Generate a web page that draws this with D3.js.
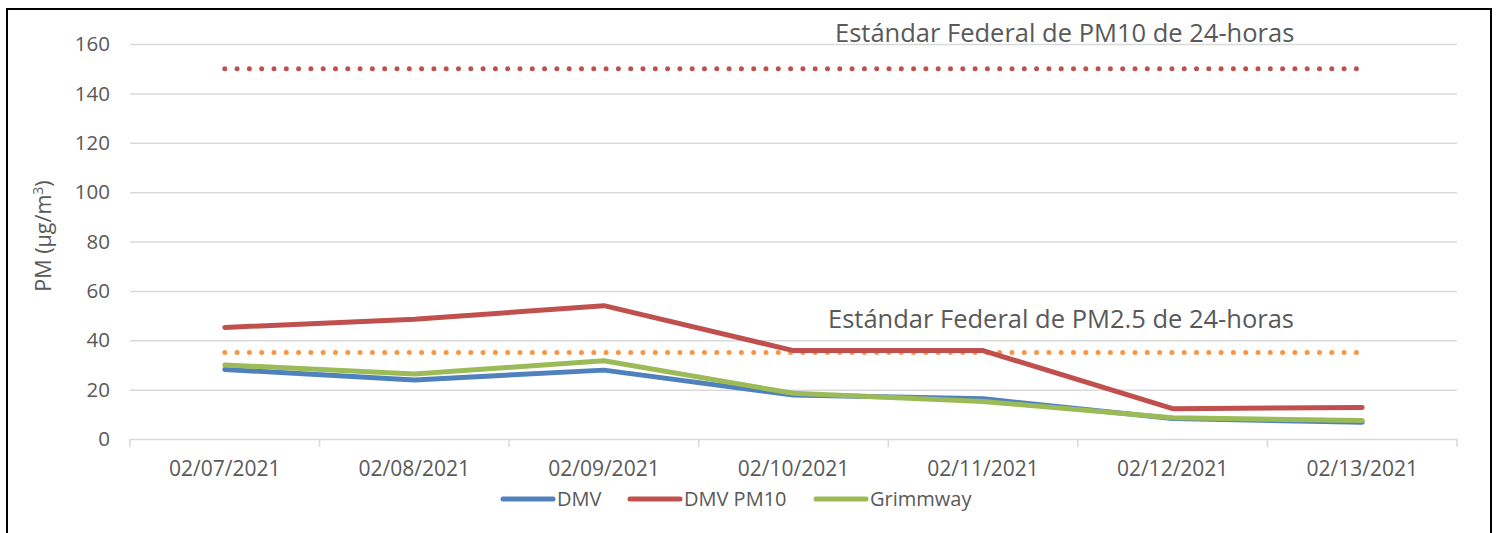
<!DOCTYPE html>
<html lang="es">
<head>
<meta charset="UTF-8">
<title>PM DMV / Grimmway</title>
<style>
  body { margin: 0; background: #fff; }
  svg text { font-family: "Open Sans", "Noto Sans", sans-serif; fill: #595959; }
  .grid line { stroke: #d9d9d9; stroke-width: 1.5; }
  .grid path { display: none; }
</style>
</head>
<body>
<svg id="chart"></svg>
<script src="https://cdn.jsdelivr.net/npm/d3@7"></script>
<script>
var dates = ["02/07/2021", "02/08/2021", "02/09/2021", "02/10/2021", "02/11/2021", "02/12/2021", "02/13/2021"];
var dmv = [28.2, 23.9, 27.9, 17.8, 16.3, 8.3, 6.8];
var dmvPm10 = [45.2, 48.5, 54.0, 35.8, 35.8, 12.3, 12.8];
var grimmway = [30.0, 26.3, 31.7, 18.5, 15.2, 8.6, 7.5];
var yTicks = [0, 20, 40, 60, 80, 100, 120, 140, 160];
var std10 = 150, std25 = 35;

var totalWidth = 1496, totalHeight = 533;
var margin = { top: 44, left: 130, right: 39 },
    plotW = totalWidth - margin.left - margin.right,
    plotH = 439 - margin.top;

var svg = d3.select("#chart").attr("width", totalWidth).attr("height", totalHeight);

svg.append("rect")
  .attr("x", 7).attr("y", 9).attr("width", 1484).attr("height", 540)
  .attr("fill", "#fff").attr("stroke", "#000").attr("stroke-width", 2);

var g = svg.append("g").attr("transform", "translate(" + margin.left + "," + margin.top + ")");

var x = d3.scaleBand().domain(dates).range([0, plotW]);
var y = d3.scaleLinear().domain([0, 160]).range([plotH, 0]);
var cx = function(i) { return x(dates[i]) + x.bandwidth() / 2; };

// grid
g.append("g").attr("class", "grid")
  .call(d3.axisLeft(y).tickValues(yTicks).tickSize(-plotW).tickFormat(""));

// y labels
g.selectAll(".ylab").data(yTicks).enter().append("text")
  .attr("x", -20).attr("y", function(d) { return y(d); })
  .attr("dy", "0.35em").attr("text-anchor", "end")
  .style("font-size", "20.5px").text(function(d) { return d; });

// x axis tick marks at band edges
var edges = dates.map(function(d) { return x(d); }).concat([plotW]);
g.selectAll(".xtick").data(edges).enter().append("line")
  .attr("x1", function(d) { return d; }).attr("x2", function(d) { return d; })
  .attr("y1", plotH).attr("y2", plotH + 8)
  .attr("stroke", "#d9d9d9").attr("stroke-width", 1.5);

g.selectAll(".xlab").data(dates).enter().append("text")
  .attr("x", function(d) { return x(d) + x.bandwidth() / 2; })
  .attr("y", plotH + 37).attr("text-anchor", "middle")
  .style("font-size", "21px").text(function(d) { return d; });

// y title
var yt = svg.append("text")
  .attr("transform", "translate(51,236) rotate(-90)")
  .attr("text-anchor", "middle").style("font-size", "21.5px");
yt.append("tspan").text("PM (µg/m");
yt.append("tspan").attr("dy", "-8").style("font-size", "14px").text("3");
yt.append("tspan").attr("dy", "8").text(")");

// standards (dotted)
function stdLine(v, color) {
  g.append("line")
    .attr("x1", cx(0)).attr("x2", cx(dates.length - 1))
    .attr("y1", y(v)).attr("y2", y(v))
    .attr("stroke", color).attr("stroke-width", 5)
    .attr("stroke-linecap", "round").attr("stroke-dasharray", "0 12.3");
}
stdLine(std10, "#c0504d");
stdLine(std25, "#f79646");

g.append("text").attr("x", 835 - margin.left).attr("y", 42 - margin.top)
  .style("font-size", "25.5px").text("Estándar Federal de PM10 de 24-horas");
g.append("text").attr("x", 828 - margin.left).attr("y", 328 - margin.top)
  .style("font-size", "25.5px").text("Estándar Federal de PM2.5 de 24-horas");

var line = d3.line().x(function(d, i) { return cx(i); }).y(function(d) { return y(d); });

var series = [
  { name: "DMV", values: dmv, color: "#4f81bd" },
  { name: "DMV PM10", values: dmvPm10, color: "#c0504d" },
  { name: "Grimmway", values: grimmway, color: "#9bbb59" }
];

series.forEach(function(s) {
  g.append("path").datum(s.values)
    .attr("d", line).attr("fill", "none")
    .attr("stroke", s.color).attr("stroke-width", 5)
    .attr("stroke-linejoin", "round").attr("stroke-linecap", "round");
});

// legend
var legX = [503, 630, 816];
series.forEach(function(s, i) {
  svg.append("line")
    .attr("x1", legX[i]).attr("x2", legX[i] + 50).attr("y1", 499).attr("y2", 499)
    .attr("stroke", s.color).attr("stroke-width", 5).attr("stroke-linecap", "round");
  svg.append("text").attr("x", legX[i] + 54).attr("y", 499).attr("dy", "0.35em")
    .style("font-size", "20px").text(s.name);
});
</script>
</body>
</html>
